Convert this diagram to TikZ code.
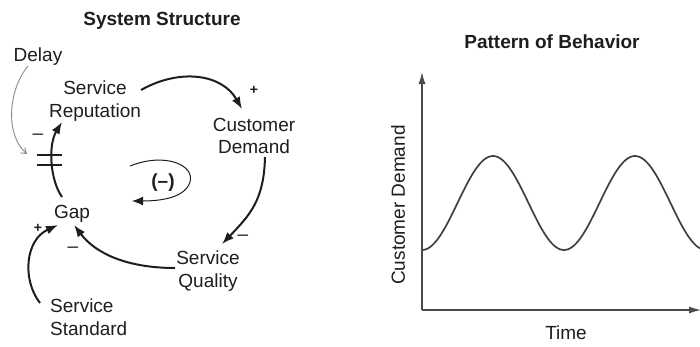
\documentclass[tikz,border=0pt]{standalone}
\usepackage{fontspec}
\setmainfont{Liberation Sans}
\usetikzlibrary{arrows.meta,calc}
\definecolor{ink}{HTML}{1E1E1E}
\definecolor{axisgray}{HTML}{4A4A4A}
\definecolor{delaygray}{HTML}{8A8A8A}
\begin{document}
\begin{tikzpicture}[x=1pt,y=-1pt,
  lbl/.style={inner sep=0pt, align=center, text=ink, font=\fontsize{19}{22.5}\selectfont},
  ttl/.style={inner sep=0pt, text=ink, font=\fontsize{19}{22.5}\selectfont\bfseries},
  pol/.style={inner sep=0pt, text=ink, font=\fontsize{19}{22}\selectfont},
  plus/.style={inner sep=0pt, text=ink, font=\fontsize{14}{14}\selectfont\bfseries},
  link/.style={line width=2pt, draw=ink, -{Latex[length=12pt,width=9pt]}},
  delaylink/.style={line width=0.9pt, draw=delaygray, -{Straight Barb[length=5pt,width=7pt]}},
  looparrow/.style={line width=1pt, draw=ink, -{Latex[length=11pt,width=9pt]}},
  axis/.style={line width=1.2pt, draw=axisgray, -{Latex[length=12pt,width=7pt]}},
  wave/.style={line width=1.7pt, draw=ink!85}
]
\fill[white] (0,0) rectangle (700,346);
\useasboundingbox (0,0) rectangle (700,346);

% ---------- causal loop diagram ----------
\node[ttl] (sstitle) at (162,21) {System Structure};

\node[lbl] (delay) at (38,57) {Delay};
\node[lbl] (rep)   at (95,101) {Service\\Reputation};
\node[lbl] (dem)   at (254,136) {Customer\\Demand};
\node[lbl] (gap)   at (72,214) {Gap};
\node[lbl] (qual)  at (208,271) {Service\\Quality};
\node[lbl, align=left, anchor=west] (std) at (50,317) {Service\\Standard};

% polarity marks
\node[plus] (p1) at (254,90) {+};
\node[pol]  (m1) at (38,137) {–};
\node[plus] (p2) at (38,228) {+};
\node[pol]  (m2) at (73,250) {–};
\node[pol]  (m3) at (243,238) {–};

% loop polarity
\node[lbl, font=\fontsize{19}{22}\selectfont\bfseries] (loop) at (163,183) {(–)};
\draw[looparrow] ($(loop.center)+(-33,-17)$)
  .. controls ($(loop.center)+(2,-31)$) and ($(loop.center)+(32,-18)$) .. ($(loop.center)+(27,-1)$)
  .. controls ($(loop.center)+(22,15)$) and ($(loop.center)+(-3,18)$) .. ($(loop.center)+(-31,18)$);

% causal links
\draw[link] ($(rep.center)+(46,-11)$)
  .. controls ($(rep.center)+(85,-33)$) and ($(dem.center)+(-32,-62)$) .. ($(dem.center)+(-12,-27)$);
\draw[link] ($(dem.center)+(11,21)$)
  .. controls ($(dem.center)+(10,64)$) and ($(qual.center)+(42,-56)$) .. ($(qual.center)+(14,-27)$);
\draw[link] ($(qual.center)+(-33,-3)$)
  .. controls ($(qual.center)+(-80,-3)$) and ($(gap.center)+(24,40)$) .. ($(gap.center)+(2,11)$);
\draw[link] ($(std.west)+(-10,-14)$)
  .. controls ($(std.west)+(-28,-37)$) and ($(gap.center)+(-47,26)$) .. ($(gap.center)+(-14,11)$);
\draw[link] ($(gap.center)+(-10,-17)$)
  .. controls ($(gap.center)+(-22,-34)$) and ($(rep.center)+(-47,44)$) .. ($(rep.center)+(-33,21)$);

% delay mark on the Gap -> Service Reputation link
\draw[line width=1.6pt, ink] (37,155) -- (62,155);
\draw[line width=1.6pt, ink] (37,165) -- (62,165);

% delay pointer
\draw[delaylink] ($(delay.center)+(-10,9)$)
  .. controls (8,90) and (5,135) .. (27,154);

% ---------- pattern of behaviour ----------
\node[ttl] (pbtitle) at (552,42) {Pattern of Behavior};

\coordinate (origin) at (422,310);
\coordinate (ytop)   at (422,72);
\coordinate (xend)   at (701,310);
\draw[axis] (origin) -- (ytop);
\draw[axis] (origin) -- (xend);

\node[lbl, rotate=90] (ylabel) at (398,205) {Customer Demand};
\node[lbl] (xlabel) at (566,333) {Time};

% period of 142pt: 360/142 = 2.5352 degrees per pt
\draw[wave] plot[domain=422:700, samples=140]
  (\x, {203+47*cos(2.5352*(\x-422))});
\end{tikzpicture}
\end{document}
